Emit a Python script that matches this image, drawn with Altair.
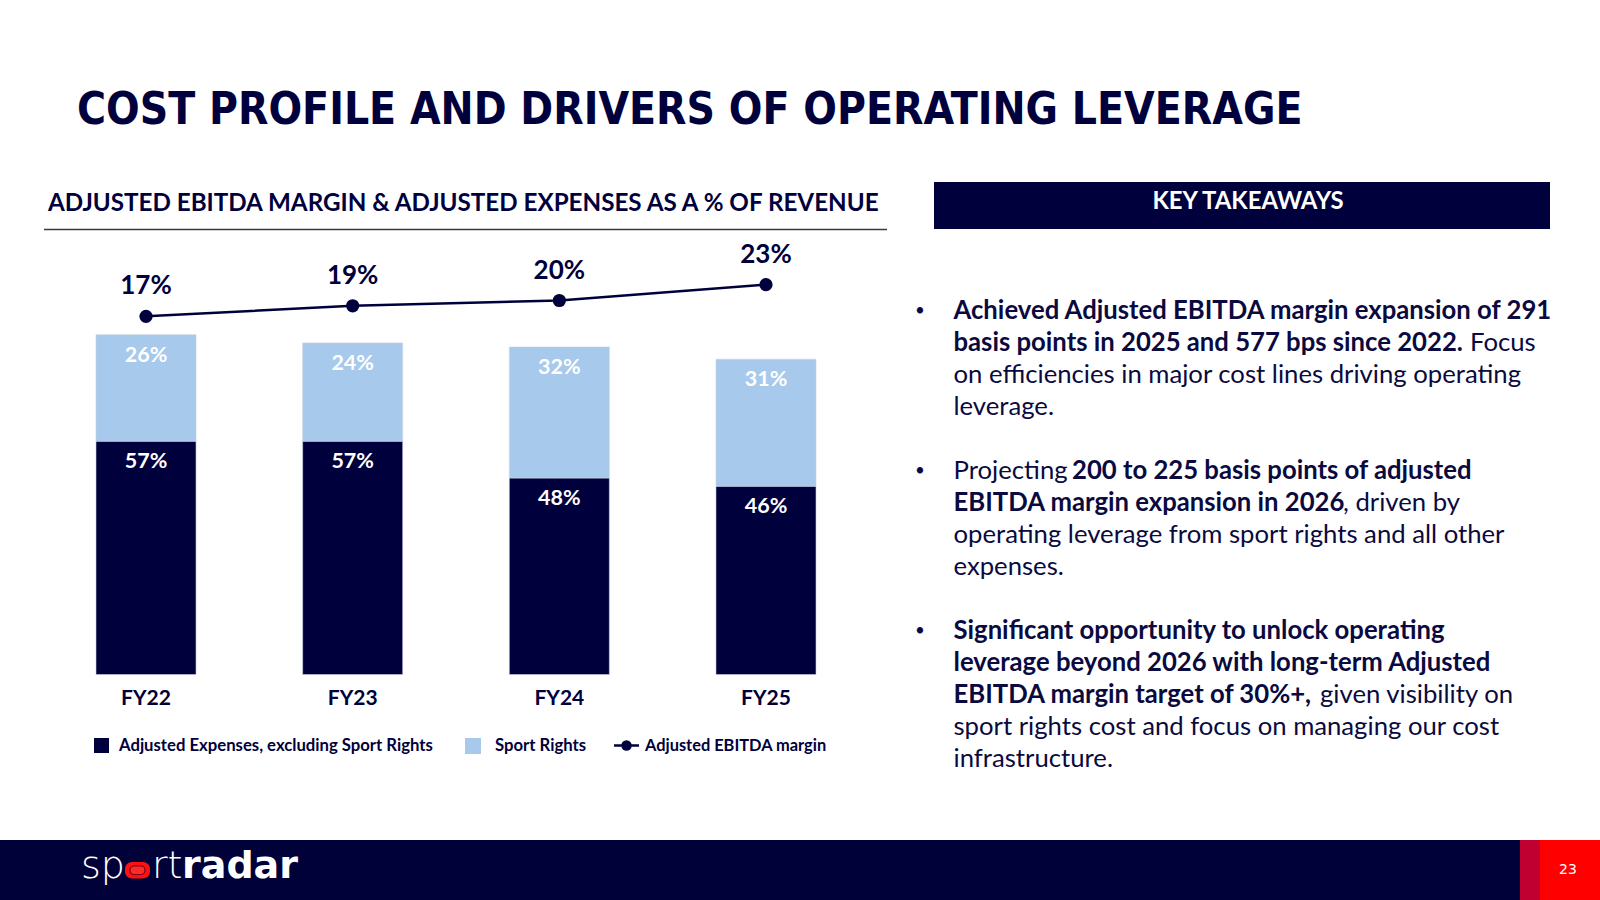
import altair as alt
import pandas as pd

# ---------------- data ----------------
YEARS = ["FY22", "FY23", "FY24", "FY25"]
EXPENSES_EX_RIGHTS = [57, 57, 48, 46]
SPORT_RIGHTS = [26, 24, 32, 31]
EBITDA_MARGIN = [17, 19, 20, 23]

SERIES = ["Adjusted Expenses, excluding Sport Rights", "Sport Rights"]
LEGEND_LINE = "Adjusted EBITDA margin"

TITLE = "COST PROFILE AND DRIVERS OF OPERATING LEVERAGE"
CHART_HEADER = "ADJUSTED EBITDA MARGIN & ADJUSTED EXPENSES AS A % OF REVENUE"
PANEL_HEADER = "KEY TAKEAWAYS"
PAGE_NUMBER = "23"
LOGO_PARTS = ["sp", "rt", "radar"]

BULLETS = [
    [
        [("Achieved Adjusted EBITDA margin expansion of 291", True)],
        [("basis points in 2025 and 577 bps since 2022.", True), ("Focus", False)],
        [("on efficiencies in major cost lines driving operating", False)],
        [("leverage.", False)],
    ],
    [
        [("Projecting", False), ("200 to 225 basis points of adjusted", True)],
        [("EBITDA margin expansion in 2026", True), (", driven by", False)],
        [("operating leverage from sport rights and all other", False)],
        [("expenses.", False)],
    ],
    [
        [("Significant opportunity to unlock operating", True)],
        [("leverage  beyond 2026 with long-term Adjusted", True)],
        [("EBITDA margin target of 30%+,", True), ("given visibility on", False)],
        [("sport rights cost and focus on managing our cost", False)],
        [("infrastructure.", False)],
    ],
]

# ---------------- style ----------------
NAVY = "#00003C"
FOOT_NAVY = "#01013A"
LIGHT = "#A7C9EB"
TEXT_NAVY = "#0A0A40"
BODY_FONT = "Lato"
TITLE_FONT = "'DejaVu Sans Condensed', 'Liberation Sans', sans-serif"

# tables built from the arrays
rows = []
for i, yr in enumerate(YEARS):
    base = 0
    for s, vals in zip(SERIES, [EXPENSES_EX_RIGHTS, SPORT_RIGHTS]):
        v = vals[i]
        rows.append({"year": yr, "series": s, "value": v, "base": base, "top": base + v,
                     "label": f"{v}%"})
        base += v
bars_df = pd.DataFrame(rows)
line_df = pd.DataFrame({"year": YEARS, "margin": EBITDA_MARGIN,
                        "label": [f"{m}%" for m in EBITDA_MARGIN]})
years_df = pd.DataFrame({"year": YEARS})

x_scale = alt.Scale(type="band", domain=YEARS, range=[96, 816], paddingInner=0.516, paddingOuter=0)
y_bar = alt.Scale(domain=[0, 100], range=[674.5, 265.1])
y_line = alt.Scale(domain=[0, 30], range=[405.9, 247.8])
X = alt.X("year:N", scale=x_scale, axis=None, sort=YEARS)


def one(v=""):
    return pd.DataFrame({"t": [v]})


def text_layer(txt, x, y, size, color=TEXT_NAVY, weight="bold", align="left", font=BODY_FONT):
    return alt.Chart(one(txt)).mark_text(
        align=align, baseline="middle", fontSize=size, fontWeight=weight, font=font, color=color
    ).encode(text="t:N", x=alt.value(x), y=alt.value(y))


def rect_layer(x1, x2, y1, y2, color, radius=0):
    return alt.Chart(one()).mark_rect(color=color, cornerRadius=radius).encode(
        x=alt.value(x1), x2=alt.value(x2), y=alt.value(y1), y2=alt.value(y2))


layers = []

# title
layers.append(text_layer(TITLE, 77, 111, 44, color=NAVY, weight="bold", font=TITLE_FONT))

# chart header + rule
layers.append(text_layer(CHART_HEADER, 48, 204, 24.2, color=NAVY))
layers.append(alt.Chart(one()).mark_rule(color="#3a3a3a", strokeWidth=1.5).encode(
    x=alt.value(44), x2=alt.value(887), y=alt.value(229.5)))

# bars
layers.append(alt.Chart(bars_df).mark_bar(stroke="#c8d2e0", strokeWidth=0.6).encode(
    x=X,
    y=alt.Y("top:Q", scale=y_bar, axis=None),
    y2="base:Q",
    color=alt.Color("series:N", scale=alt.Scale(domain=SERIES, range=[NAVY, LIGHT]), legend=None),
))
layers.append(alt.Chart(bars_df).mark_text(
    color="white", fontWeight="bold", fontSize=21.5, font=BODY_FONT, baseline="middle", dy=21
).encode(x=X, y=alt.Y("top:Q", scale=y_bar, axis=None), text="label:N"))

# line + points + labels
layers.append(alt.Chart(line_df).mark_line(color=NAVY, strokeWidth=2.5).encode(
    x=X, y=alt.Y("margin:Q", scale=y_line, axis=None)))
layers.append(alt.Chart(line_df).mark_point(filled=True, opacity=1, color=NAVY, size=175, shape="circle").encode(
    x=X, y=alt.Y("margin:Q", scale=y_line, axis=None)))
layers.append(alt.Chart(line_df).mark_text(
    color=NAVY, fontWeight="bold", fontSize=26, font=BODY_FONT, baseline="middle", dy=-30
).encode(x=X, y=alt.Y("margin:Q", scale=y_line, axis=None), text="label:N"))

# category labels
layers.append(alt.Chart(years_df).mark_text(
    color=NAVY, fontWeight="bold", fontSize=21, font=BODY_FONT, baseline="middle"
).encode(x=X, y=alt.value(699), text="year:N"))

# legend
layers.append(rect_layer(94, 109, 738, 753, NAVY))
layers.append(text_layer(SERIES[0], 119, 745.5, 16.7, color=NAVY))
layers.append(rect_layer(465, 481, 738, 754, LIGHT))
layers.append(text_layer(SERIES[1], 495, 745.5, 16.7, color=NAVY))
layers.append(alt.Chart(one()).mark_rule(color=NAVY, strokeWidth=2.5).encode(
    x=alt.value(614), x2=alt.value(639), y=alt.value(745.5)))
layers.append(alt.Chart(one()).mark_point(filled=True, opacity=1, color=NAVY, size=110, shape="circle").encode(
    x=alt.value(626.5), y=alt.value(745.5)))
layers.append(text_layer(LEGEND_LINE, 645, 745.5, 16.4, color=NAVY))

# key takeaways panel
layers.append(rect_layer(934, 1550, 182, 229, NAVY))
layers.append(text_layer(PANEL_HEADER, 1248, 201.5, 23.9, color="white", align="center"))

SEG_X = {  # x positions of continuation segments (layout)
    (0, 1, 1): 1470,
    (1, 0, 1): 1072,
    (1, 1, 1): 1343,
    (2, 2, 1): 1320,
}
TEXT_X = 953.5
LINE0 = 310.5
LINE_STEP = 32.0
k = 0
for bi, bullet in enumerate(BULLETS):
    layers.append(text_layer("•", 920, LINE0 + LINE_STEP * k, 17, weight="normal", align="center"))
    for li, line in enumerate(bullet):
        y = LINE0 + LINE_STEP * k
        for si, (seg, bold) in enumerate(line):
            x = TEXT_X if si == 0 else SEG_X[(bi, li, si)]
            layers.append(text_layer(seg, x, y, 25.7, weight="bold" if bold else "normal"))
        k += 1
    k += 1

# footer
layers.append(rect_layer(0, 1600, 840, 900, FOOT_NAVY))
layers.append(rect_layer(1520, 1540, 840, 900, "#C00030"))
layers.append(rect_layer(1540, 1600, 840, 900, "#FF0000"))
layers.append(text_layer(PAGE_NUMBER, 1568, 870, 14, color="white", weight="normal", align="center",
                         font="DejaVu Sans"))
# logo
layers.append(text_layer(LOGO_PARTS[0], 81, 867, 38, color="white", weight=200, font="DejaVu Sans"))
layers.append(rect_layer(125, 150, 862, 878.5, "#FF1010", radius=7))
layers.append(alt.Chart(one()).mark_rect(fill="#FF2A2A", stroke="#7A0018", strokeWidth=1.2, cornerRadius=4).encode(
    x=alt.value(130), x2=alt.value(145), y=alt.value(866), y2=alt.value(874.5)))
layers.append(text_layer(LOGO_PARTS[1], 152, 867, 38, color="white", weight=200, font="DejaVu Sans"))
layers.append(text_layer(LOGO_PARTS[2], 182, 867, 38, color="white", weight="bold", font="DejaVu Sans"))

chart = alt.layer(*layers).resolve_scale(
    x="independent", y="independent", color="independent"
).properties(
    width=1600, height=900, padding=0,
    autosize=alt.AutoSizeParams(type="none", contains="padding"),
    background="white",
).configure_view(stroke=None)

chart.save("out.html", embed_options={"renderer": "svg", "actions": False})
